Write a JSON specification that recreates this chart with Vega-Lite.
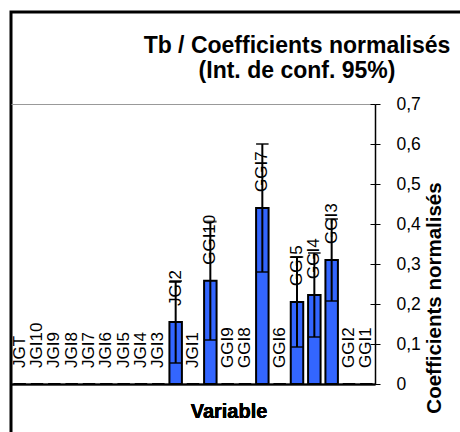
{
  "$schema": "https://vega.github.io/schema/vega-lite/v6.json",
  "autosize": {"type": "none"},
  "padding": {"left": 11, "top": 12, "right": -10, "bottom": -10},
  "width": 459,
  "height": 430,
  "background": "white",
  "config": {
    "view": {"stroke": "black", "strokeWidth": 3},
    "font": "Liberation Sans"
  },
  "title": {
    "text": ["Tb / Coefficients normalisés", "(Int. de conf. 95%)"],
    "anchor": "middle",
    "frame": "group",
    "fontSize": 23,
    "fontWeight": "bold",
    "font": "Liberation Sans",
    "color": "black",
    "baseline": "alphabetic",
    "lineHeight": 25,
    "offset": 0,
    "dx": 56.5,
    "dy": 89
  },
  "data": {
    "values": [
      {"v": "JGT", "c": 0, "lo": null, "hi": null},
      {"v": "JGI10", "c": 0, "lo": null, "hi": null},
      {"v": "JGI9", "c": 0, "lo": null, "hi": null},
      {"v": "JGI8", "c": 0, "lo": null, "hi": null},
      {"v": "JGI7", "c": 0, "lo": null, "hi": null},
      {"v": "JGI6", "c": 0, "lo": null, "hi": null},
      {"v": "JGI5", "c": 0, "lo": null, "hi": null},
      {"v": "JGI4", "c": 0, "lo": null, "hi": null},
      {"v": "JGI3", "c": 0, "lo": null, "hi": null},
      {"v": "JGI2", "c": 0.155, "lo": 0.0525, "hi": 0.2575},
      {"v": "JGI1", "c": 0, "lo": null, "hi": null},
      {"v": "GGI10", "c": 0.258, "lo": 0.11, "hi": 0.406},
      {"v": "GGI9", "c": 0, "lo": null, "hi": null},
      {"v": "GGI8", "c": 0, "lo": null, "hi": null},
      {"v": "GGI7", "c": 0.44, "lo": 0.28, "hi": 0.6},
      {"v": "GGI6", "c": 0, "lo": null, "hi": null},
      {"v": "GGI5", "c": 0.205, "lo": 0.0925, "hi": 0.3175},
      {"v": "GGI4", "c": 0.2225, "lo": 0.1175, "hi": 0.3275},
      {"v": "GGI3", "c": 0.31, "lo": 0.2075, "hi": 0.4125},
      {"v": "GGI2", "c": 0, "lo": null, "hi": null},
      {"v": "GGI1", "c": 0, "lo": null, "hi": null}
    ]
  },
  "encoding": {
    "x": {
      "field": "v",
      "type": "nominal",
      "sort": null,
      "scale": {"range": [0, 364], "paddingInner": 0.28, "paddingOuter": 0.14},
      "axis": {
        "orient": "bottom",
        "offset": -58,
        "labels": false,
        "ticks": false,
        "grid": false,
        "domain": true,
        "domainColor": "black",
        "domainWidth": 1.5,
        "title": "Variable",
        "titleFont": "Liberation Sans",
        "titleFontSize": 20,
        "titleFontWeight": "bold",
        "titleColor": "black",
        "titleX": 217.5,
        "titleY": 33,
        "titleAlign": "center",
        "titleBaseline": "alphabetic"
      }
    }
  },
  "layer": [
    {
      "mark": {"type": "bar", "fill": "#3366FF", "stroke": "black", "strokeWidth": 2},
      "encoding": {
        "y": {
          "field": "c",
          "type": "quantitative",
          "scale": {"domain": [0, 0.7], "range": [372, 92], "nice": false},
          "axis": {
            "orient": "right",
            "offset": -95,
            "values": [0, 0.1, 0.2, 0.3, 0.4, 0.5, 0.6, 0.7],
            "tickSize": 5,
            "tickColor": "black",
            "tickWidth": 1,
            "domain": true,
            "domainColor": "black",
            "domainWidth": 1.5,
            "labelFont": "Liberation Sans",
            "labelFontSize": 17.5,
            "labelColor": "black",
            "labelPadding": 16,
            "labelExpr": "datum.value == 0 ? '0' : replace(format(datum.value, '.1f'), '.', ',')",
            "grid": false,
            "title": "Coefficients normalisés",
            "titleFont": "Liberation Sans",
            "titleFontSize": 20.5,
            "titleFontWeight": "bold",
            "titleColor": "black",
            "titleAngle": 270,
            "titleX": 59,
            "titleY": 285.5,
            "titleAlign": "center",
            "titleBaseline": "middle"
          }
        }
      }
    },
    {
      "transform": [{"filter": "datum.hi != null"}],
      "mark": {"type": "rule", "strokeWidth": 2, "color": "black"},
      "encoding": {
        "y": {"field": "lo", "type": "quantitative", "scale": {"domain": [0, 0.7], "range": [372, 92], "nice": false}, "axis": null},
        "y2": {"field": "hi"}
      }
    },
    {
      "transform": [{"filter": "datum.hi != null"}],
      "mark": {"type": "tick", "orient": "horizontal", "thickness": 2, "size": 12.5, "color": "black"},
      "encoding": {
        "y": {"field": "hi", "type": "quantitative", "scale": {"domain": [0, 0.7], "range": [372, 92], "nice": false}, "axis": null}
      }
    },
    {
      "transform": [{"filter": "datum.hi != null"}],
      "mark": {"type": "tick", "orient": "horizontal", "thickness": 2, "size": 12.5, "color": "black"},
      "encoding": {
        "y": {"field": "lo", "type": "quantitative", "scale": {"domain": [0, 0.7], "range": [372, 92], "nice": false}, "axis": null}
      }
    },
    {
      "mark": {"type": "text", "angle": 270, "align": "left", "baseline": "middle", "dx": 16, "fontSize": 17, "font": "Liberation Sans", "color": "black"},
      "encoding": {
        "text": {"field": "v"},
        "x": {
          "field": "v",
          "type": "nominal",
          "sort": null,
          "scale": {"range": [0, 364], "paddingInner": 0.28, "paddingOuter": 0.14},
          "axis": {
            "orient": "top",
            "offset": -92,
            "labels": false,
            "ticks": false,
            "grid": false,
            "domain": true,
            "domainColor": "#999999",
            "domainWidth": 1,
            "title": null
          }
        },
        "y": {
          "field": "c",
          "type": "quantitative",
          "scale": {"domain": [0, 0.7], "range": [372, 92], "nice": false},
          "axis": {
            "orient": "right",
            "offset": -95,
            "values": [0, 0.1, 0.2, 0.3, 0.4, 0.5, 0.6, 0.7],
            "tickSize": -5,
            "tickColor": "black",
            "tickWidth": 1,
            "labels": false,
            "domain": false,
            "grid": false,
            "title": null
          }
        }
      }
    }
  ],
  "resolve": {"scale": {"y": "independent"}, "axis": {"y": "independent", "x": "independent"}}
}
